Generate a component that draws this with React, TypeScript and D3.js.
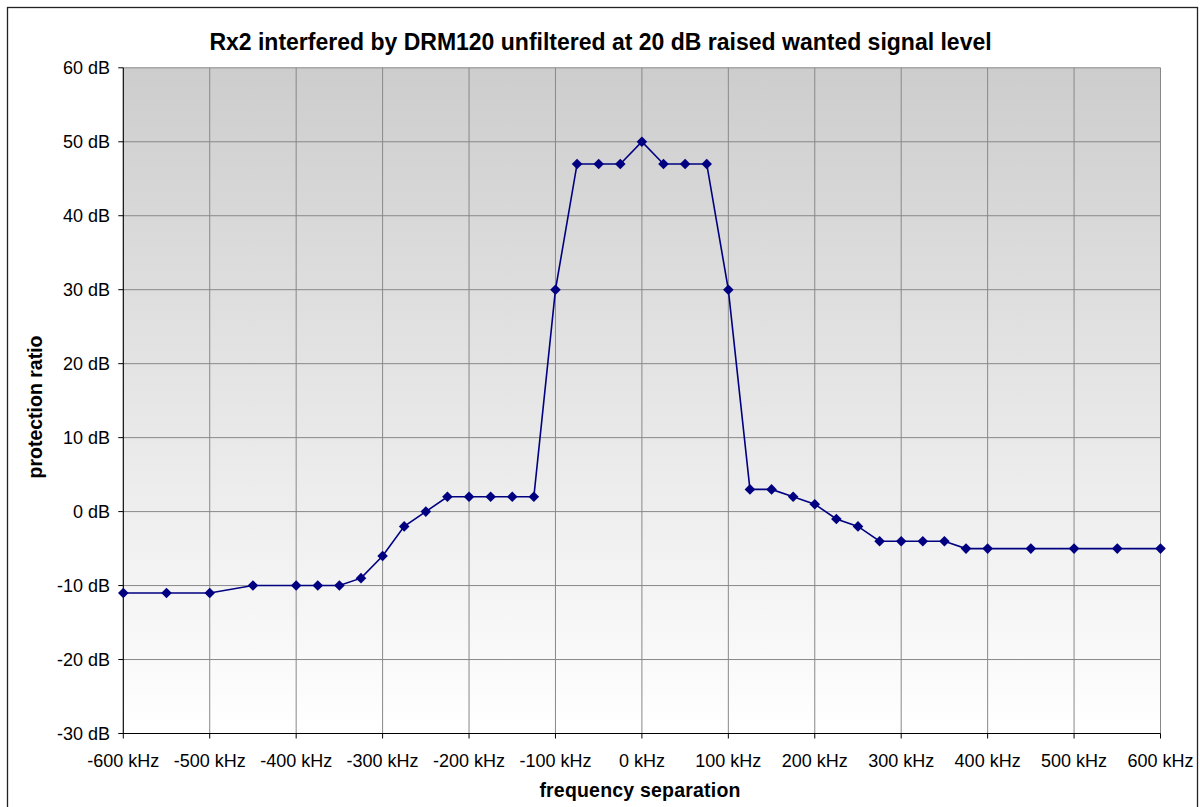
import React, { useEffect, useRef } from "react";
import * as d3 from "d3";

const freqs = [-600, -550, -500, -450, -400, -375, -350, -325, -300, -275, -250, -225, -200, -175, -150, -125, -100, -75, -50, -25, 0, 25, 50, 75, 100, 125, 150, 175, 200, 225, 250, 275, 300, 325, 350, 375, 400, 450, 500, 550, 600];
const ratios = [-11, -11, -11, -10, -10, -10, -10, -9, -6, -2, 0, 2, 2, 2, 2, 2, 30, 47, 47, 47, 50, 47, 47, 47, 30, 3, 3, 2, 1, -1, -2, -4, -4, -4, -4, -5, -5, -5, -5, -5, -5];
const xTicks = [-600, -500, -400, -300, -200, -100, 0, 100, 200, 300, 400, 500, 600];
const yTicks = [-30, -20, -10, 0, 10, 20, 30, 40, 50, 60];
const title = "Rx2 interfered by DRM120 unfiltered at 20 dB raised wanted signal level";
const xTitle = "frequency separation";
const yTitle = "protection ratio";

export default function App() {
  const ref = useRef<SVGSVGElement>(null);
  useEffect(() => {
    const svg = d3.select(ref.current);
    svg.selectAll("*").remove();
    const W = 1200, H = 807;
    const L = 123.3, R = 1160.5, T = 67.8, B = 733.5;
    const x = d3.scaleLinear().domain([-600, 600]).range([L, R]);
    const y = d3.scaleLinear().domain([-30, 60]).range([B, T]);
    const font = "Arial, 'Liberation Sans', sans-serif";

    const defs = svg.append("defs");
    const g = defs.append("linearGradient").attr("id", "bg").attr("x1", 0).attr("y1", 0).attr("x2", 0).attr("y2", 1);
    g.append("stop").attr("offset", "0%").attr("stop-color", "#cdcdcd");
    g.append("stop").attr("offset", "100%").attr("stop-color", "#ffffff");

    svg.append("rect").attr("width", W).attr("height", H).attr("fill", "#fff");
    svg.append("rect").attr("x", 7.5).attr("y", 7.5).attr("width", 1190).attr("height", 820)
      .attr("fill", "none").attr("stroke", "#222").attr("stroke-width", 1.3);

    svg.append("rect").attr("x", L).attr("y", T).attr("width", R - L).attr("height", B - T).attr("fill", "url(#bg)");

    // gridlines
    svg.append("g").selectAll("line").data(yTicks).join("line")
      .attr("x1", L).attr("x2", R).attr("y1", d => y(d)).attr("y2", d => y(d))
      .attr("stroke", "#888").attr("stroke-width", 1);
    svg.append("g").selectAll("line").data(xTicks).join("line")
      .attr("y1", T).attr("y2", B).attr("x1", d => x(d)).attr("x2", d => x(d))
      .attr("stroke", "#888").attr("stroke-width", 1);

    // axes lines
    svg.append("line").attr("x1", L).attr("x2", L).attr("y1", T).attr("y2", B).attr("stroke", "#000").attr("stroke-width", 1);
    svg.append("line").attr("x1", L).attr("x2", R).attr("y1", B).attr("y2", B).attr("stroke", "#000").attr("stroke-width", 1);

    // y ticks
    svg.append("g").selectAll("line").data(yTicks).join("line")
      .attr("x1", L - 5).attr("x2", L).attr("y1", d => y(d)).attr("y2", d => y(d)).attr("stroke", "#000");
    svg.append("g").selectAll("text").data(yTicks).join("text")
      .attr("x", 110).attr("y", d => y(d)).attr("dy", "0.35em").attr("text-anchor", "end")
      .attr("font-family", font).attr("font-size", 18).attr("fill", "#000")
      .text(d => `${d} dB`);

    // x ticks
    svg.append("g").selectAll("line").data(xTicks).join("line")
      .attr("y1", B).attr("y2", B + 5).attr("x1", d => x(d)).attr("x2", d => x(d)).attr("stroke", "#000");
    svg.append("g").selectAll("text").data(xTicks).join("text")
      .attr("x", d => x(d)).attr("y", 767)
      .attr("text-anchor", "middle")
      .attr("font-family", font).attr("font-size", 18).attr("fill", "#000")
      .text(d => `${d} kHz`);

    // line
    const pts = freqs.map((f, i) => [f, ratios[i]] as [number, number]);
    const line = d3.line<[number, number]>().x(d => x(d[0])).y(d => y(d[1]));
    svg.append("path").datum(pts).attr("d", line).attr("fill", "none").attr("stroke", "#000080").attr("stroke-width", 1.6);
    const s = 5.3;
    svg.append("g").selectAll("path").data(pts).join("path")
      .attr("d", d => `M${x(d[0])},${y(d[1]) - s}L${x(d[0]) + s},${y(d[1])}L${x(d[0])},${y(d[1]) + s}L${x(d[0]) - s},${y(d[1])}Z`)
      .attr("fill", "#000080");

    // titles
    svg.append("text").attr("x", 600.5).attr("y", 49.5).attr("text-anchor", "middle")
      .attr("font-family", font).attr("font-size", 23).attr("font-weight", "bold").text(title);
    svg.append("text").attr("x", 640).attr("y", 797).attr("text-anchor", "middle")
      .attr("font-family", font).attr("font-size", 19.5).attr("font-weight", "bold").attr("letter-spacing", 0.2).text(xTitle);
    svg.append("text").attr("transform", `translate(42,407) rotate(-90)`)
      .attr("text-anchor", "middle").attr("font-family", font).attr("font-size", 19.5).attr("font-weight", "bold").text(yTitle);
  }, []);
  return (
    <svg ref={ref} width={1200} height={807} style={{ position: "absolute", left: 0, top: 0, display: "block" }} />
  );
}
